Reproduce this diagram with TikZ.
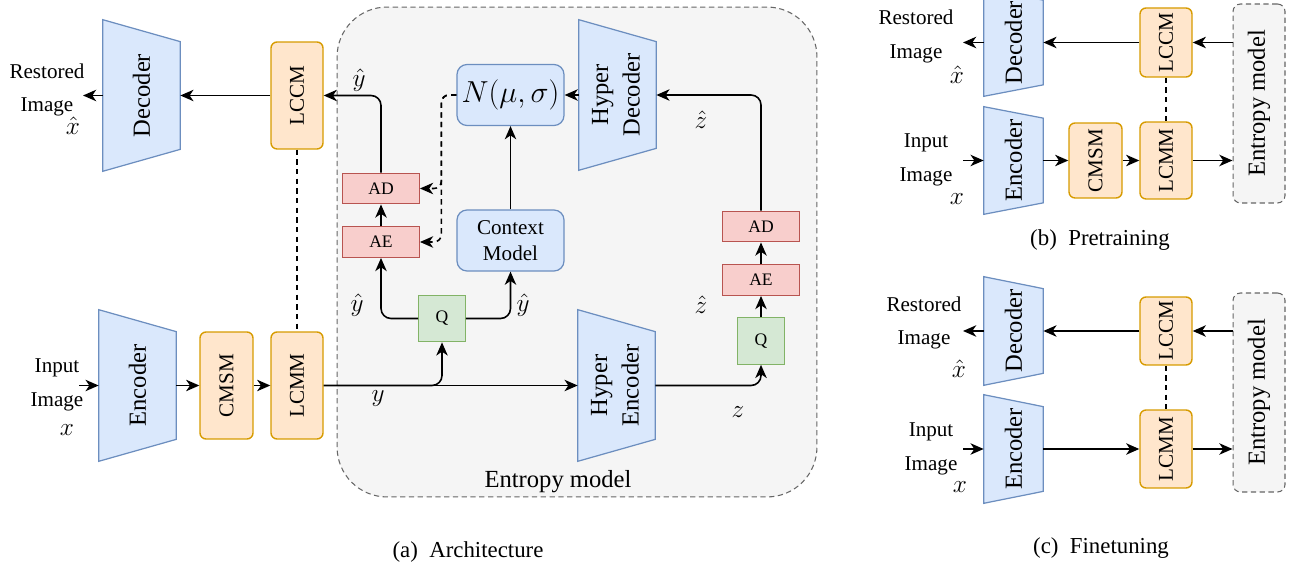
\documentclass[tikz,border=0pt]{standalone}
\usepackage{fontspec}
\setmainfont{Liberation Serif}
\usetikzlibrary{arrows.meta,backgrounds}

\definecolor{blueL}{HTML}{DAE8FC}
\definecolor{blueD}{HTML}{6C8EBF}
\definecolor{orangeL}{HTML}{FFE6CC}
\definecolor{orangeD}{HTML}{D79B00}
\definecolor{redL}{HTML}{F8CECC}
\definecolor{redD}{HTML}{B85450}
\definecolor{greenL}{HTML}{D5E8D4}
\definecolor{greenD}{HTML}{82B366}
\definecolor{grayL}{HTML}{F5F5F5}
\definecolor{grayD}{HTML}{666666}

\newcommand{\vt}[1]{\rotatebox{90}{#1}}
\newcommand{\vtt}[2]{\rotatebox{90}{\begin{tabular}{@{}c@{}}#1\\#2\end{tabular}}}

\begin{document}
\begin{tikzpicture}[x=0.02cm,y=-0.02cm,>={Stealth[length=7.5pt,width=6.5pt,inset=2.2pt]},
    arr/.style={->,line width=0.9pt},
    link/.style={line width=0.9pt,dash pattern=on 3pt off 2.5pt},
    trap/.style={draw=blueD,fill=blueL,line width=0.7pt},
    tnode/.style={inner sep=0pt,font=\fontsize{14}{18}\selectfont},
    obox/.style={draw=orangeD,fill=orangeL,line width=0.8pt,rounded corners=0.12cm,inner sep=0pt,font=\fontsize{12}{14}\selectfont},
    bbox/.style={draw=blueD,fill=blueL,line width=0.7pt,rounded corners=0.2cm,inner sep=0pt,minimum width=2.14cm,minimum height=1.22cm,font=\fontsize{12}{14.5}\selectfont,align=center},
    rbox/.style={draw=redD,fill=redL,line width=0.8pt,inner sep=0pt,minimum width=1.53cm,minimum height=0.61cm,font=\fontsize{10}{12}\selectfont},
    gbox/.style={draw=greenD,fill=greenL,line width=0.7pt,inner sep=0pt,minimum size=0.93cm,font=\fontsize{10}{12}\selectfont},
    emodel/.style={draw=grayD,fill=grayL,line width=0.6pt,dash pattern=on 3pt off 2pt,inner sep=0pt},
    lbl/.style={font=\fontsize{12}{19}\selectfont,align=center,inner sep=0pt},
    mlbl/.style={font=\fontsize{15}{16}\selectfont,inner sep=0pt},
    captxt/.style={font=\fontsize{13}{15}\selectfont,inner sep=0pt}]

    \useasboundingbox (0,0) rectangle (1300,570);

    % (a) architecture
    \node[tnode,minimum width=1.54cm,minimum height=3.02cm] (dec_a) at (141.5,95.5) {\vt{Decoder}};
    \node[obox,minimum width=1.04cm,minimum height=2.14cm] (lccm_a) at (297,95.5) {\vt{LCCM}};
    \node[tnode,minimum width=1.54cm,minimum height=3.02cm] (enc_a) at (137.5,385.5) {\vt{Encoder}};
    \node[obox,minimum width=1.06cm,minimum height=2.14cm] (cmsm_a) at (226.5,385.5) {\vt{CMSM}};
    \node[obox,minimum width=1.04cm,minimum height=2.14cm] (lcmm_a) at (297,385.5) {\vt{LCMM}};
    \node[lbl] (rest_a) at (47,90) {Restored\\Image};
    \node[mlbl] (xh_a) at (73,126) {$\hat{x}$};
    \node[lbl] (inp_a) at (57,385) {Input\\Image};
    \node[mlbl] (x_a) at (67,430) {$x$};
    \coordinate (out_a) at (83,95.5);
    \coordinate (in_a) at (79,385.5);

    \node[gbox] (q1) at (442,318.5) {Q};
    \node[rbox] (ae1) at (381,242) {AE};
    \node[rbox] (ad1) at (381,188.5) {AD};
    \node[bbox] (nms) at (510.5,95) {\fontsize{17}{18}\selectfont$N(\mu,\sigma)$};
    \node[bbox] (ctx) at (510.5,240.5) {Context\\Model};
    \node[tnode,minimum width=1.54cm,minimum height=3.0cm] (hdec) at (617.5,95) {\vtt{Hyper}{Decoder}};
    \node[tnode,minimum width=1.54cm,minimum height=3.02cm] (henc) at (616.5,385.5) {\vtt{Hyper}{Encoder}};
    \node[gbox] (q2) at (761,341) {Q};
    \node[rbox] (ae2) at (761,280) {AE};
    \node[rbox] (ad2) at (761,226.5) {AD};
    \node[tnode] (emtxt) at (558,482) {Entropy model};

    \node[mlbl] (yh1) at (359,80) {$\hat{y}$};
    \node[mlbl] (yh2) at (357,305) {$\hat{y}$};
    \node[mlbl] (yh3) at (523,305) {$\hat{y}$};
    \node[mlbl] (zh1) at (701,120) {$\hat{z}$};
    \node[mlbl] (zh2) at (701,305) {$\hat{z}$};
    \node[mlbl] (zl) at (738,412) {$z$};
    \node[mlbl] (yl) at (378,399) {$y$};
    \node[captxt] (cap_a) at (468,552) {(a)\enskip Architecture};

    \draw[arr] (dec_a.west) -- (out_a);
    \draw[arr] (lccm_a.west) -- (dec_a.east);
    \draw[arr] (in_a) -- (enc_a.west);
    \draw[arr] (enc_a.east) -- (cmsm_a.west);
    \draw[arr] (cmsm_a.east) -- (lcmm_a.west);
    \draw[link] (lccm_a.south) -- (lcmm_a.north);
    \draw[arr] (lcmm_a.east) -- (henc.west);
    \draw[arr,rounded corners=0.2cm] (lcmm_a.east) -| (q1.south);
    \draw[arr,rounded corners=0.2cm] (q1.west) -| (ae1.south);
    \draw[arr,rounded corners=0.2cm] (q1.east) -| (ctx.south);
    \draw[arr] (ae1.north) -- (ad1.south);
    \draw[arr,rounded corners=0.2cm] (ad1.north) |- (lccm_a.east);
    \draw[arr] (ctx.north) -- (nms.south);
    \draw[arr] (hdec.west) -- (nms.east);
    \draw[arr,rounded corners=0.2cm] (henc.east) -| (q2.south);
    \draw[arr] (q2.north) -- (ae2.south);
    \draw[arr] (ae2.north) -- (ad2.south);
    \draw[arr,rounded corners=0.2cm] (ad2.north) |- (hdec.east);
    \draw[arr,link,rounded corners=0.15cm] (nms.west) -- ++(-15,0) |- (ad1.east);
    \draw[arr,link,rounded corners=0.15cm] (nms.west) -- ++(-15,0) |- (ae1.east);

    % (b) pretraining
    \node[tnode,minimum width=1.18cm,minimum height=2.14cm] (dec_b) at (1013.5,42.5) {\vt{Decoder}};
    \node[tnode,minimum width=1.18cm,minimum height=2.14cm] (enc_b) at (1013.5,160.5) {\vt{Encoder}};
    \node[obox,minimum width=1.04cm,minimum height=1.38cm] (lccm_b) at (1166,42.5) {\vt{LCCM}};
    \node[obox,minimum width=1.06cm,minimum height=1.5cm] (cmsm_b) at (1095.5,160.5) {\vt{CMSM}};
    \node[obox,minimum width=1.04cm,minimum height=1.54cm] (lcmm_b) at (1166,160.5) {\vt{LCMM}};
    \node[emodel,rounded corners=0.15cm,minimum width=1.04cm,minimum height=3.98cm,font=\fontsize{14}{16}\selectfont] (ent_b) at (1259,103.5) {\vt{Entropy model}};
    \node[lbl] (rest_b) at (916,36.5) {Restored\\Image};
    \node[mlbl] (xh_b) at (957,75) {$\hat{x}$};
    \node[lbl] (inp_b) at (926,160) {Input\\Image};
    \node[mlbl] (x_b) at (957,199) {$x$};
    \coordinate (out_b) at (963,42.5);
    \coordinate (in_b) at (963,160.5);
    \node[captxt] (cap_b) at (1100,240) {(b)\enskip Pretraining};

    \draw[arr] (dec_b.west) -- (out_b);
    \draw[arr] (lccm_b.west) -- (dec_b.east);
    \draw[arr] (ent_b.west |- lccm_b.east) -- (lccm_b.east);
    \draw[link] (lccm_b.south) -- (lcmm_b.north);
    \draw[arr] (in_b) -- (enc_b.west);
    \draw[arr] (enc_b.east) -- (cmsm_b.west);
    \draw[arr] (cmsm_b.east) -- (lcmm_b.west);
    \draw[arr] (lcmm_b.east) -- (ent_b.west |- lcmm_b.east);

    % (c) finetuning
    \node[tnode,minimum width=1.18cm,minimum height=2.16cm] (dec_c) at (1013.5,331) {\vt{Decoder}};
    \node[tnode,minimum width=1.18cm,minimum height=2.16cm] (enc_c) at (1013.5,449) {\vt{Encoder}};
    \node[obox,minimum width=1.04cm,minimum height=1.36cm] (lccm_c) at (1166,331) {\vt{LCCM}};
    \node[obox,minimum width=1.04cm,minimum height=1.56cm] (lcmm_c) at (1166,449) {\vt{LCMM}};
    \node[emodel,rounded corners=0.15cm,minimum width=1.04cm,minimum height=3.98cm,font=\fontsize{14}{16}\selectfont] (ent_c) at (1259,392.5) {\vt{Entropy model}};
    \node[lbl] (rest_c) at (924,323) {Restored\\Image};
    \node[mlbl] (xh_c) at (959,369) {$\hat{x}$};
    \node[lbl] (inp_c) at (931,449) {Input\\Image};
    \node[mlbl] (x_c) at (960,487) {$x$};
    \coordinate (out_c) at (963,331);
    \coordinate (in_c) at (963,449);
    \node[captxt] (cap_c) at (1101,548) {(c)\enskip Finetuning};

    \draw[arr] (dec_c.west) -- (out_c);
    \draw[arr] (lccm_c.west) -- (dec_c.east);
    \draw[arr] (ent_c.west |- lccm_c.east) -- (lccm_c.east);
    \draw[link] (lccm_c.south) -- (lcmm_c.north);
    \draw[arr] (in_c) -- (enc_c.west);
    \draw[arr] (enc_c.east) -- (lcmm_c.west);
    \draw[arr] (lcmm_c.east) -- (ent_c.west |- lcmm_c.east);

    \begin{scope}[on background layer]
        \node[emodel,rounded corners=1cm,minimum width=9.6cm,minimum height=9.8cm] (ent_a) at (577,252) {};
        \foreach \n/\d in {dec_a/0.44,enc_a/0.44,hdec/0.44,henc/0.44,dec_b/0.23,enc_b/0.23,dec_c/0.24,enc_c/0.24}
            \draw[trap] (\n.north west) -- ([yshift=-\d cm]\n.north east) -- ([yshift=\d cm]\n.south east) -- (\n.south west) -- cycle;
    \end{scope}
\end{tikzpicture}
\end{document}
